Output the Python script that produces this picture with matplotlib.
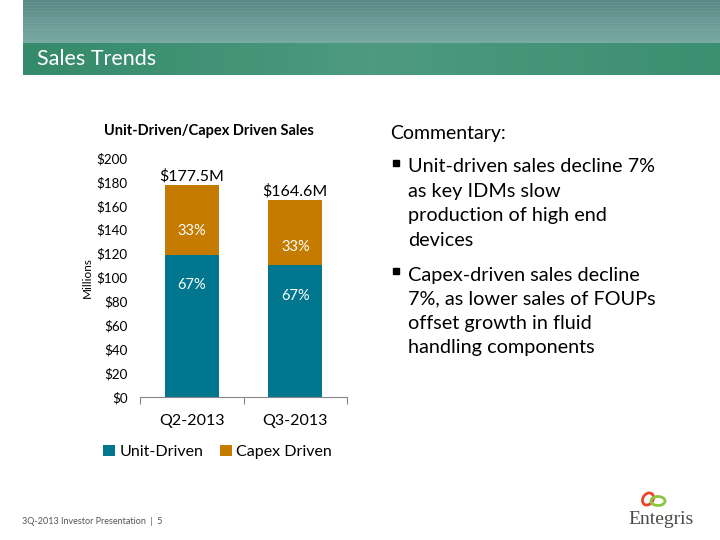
import numpy as np
import matplotlib
matplotlib.use("Agg")
import matplotlib.pyplot as plt
from matplotlib.patches import Rectangle, Ellipse

categories = ["Q2-2013", "Q3-2013"]
unit_driven = [118.9, 110.3]
capex_driven = [58.6, 54.3]
totals_labels = ["$177.5M", "$164.6M"]
unit_pct = ["67%", "67%"]
capex_pct = ["33%", "33%"]
yticks = [0, 20, 40, 60, 80, 100, 120, 140, 160, 180, 200]
ytick_labels = ["$" + str(v) for v in yticks]

TEAL = "#00778F"
ORANGE = "#C47B00"
FONT = ["Lato", "DejaVu Sans"]
plt.rcParams["font.family"] = FONT

fig = plt.figure(figsize=(7.2, 5.4), dpi=100)
W, H = 720, 540

# ---- background / header
bg = fig.add_axes([0, 0, 1, 1])
bg.set_xlim(0, W)
bg.set_ylim(H, 0)
bg.axis("off")
top = np.linspace(0, 1, 43)[:, None] * np.ones((1, 200))
cm1 = matplotlib.colors.LinearSegmentedColormap.from_list("t", ["#5a8985", "#79aaa4"])
bg.imshow(top, cmap=cm1, extent=[23, W, 43, 0], aspect="auto", zorder=1)
for yy in range(2, 30, 3):
    bg.plot([23, W], [yy, yy], color="white", alpha=0.06, lw=0.8, zorder=2)
grn = np.ones((32, 1)) * np.concatenate([np.linspace(0, 1, 100), np.linspace(1, 0.3, 100)])[None, :]
cm2 = matplotlib.colors.LinearSegmentedColormap.from_list("g", ["#358a6b", "#4d9a80"])
bg.imshow(grn, cmap=cm2, extent=[23, W, 75, 43], aspect="auto", zorder=1)
bg.text(37, 59, "Sales Trends", color="white", fontsize=15.5, va="center", ha="left", zorder=3)

# ---- chart
ax = fig.add_axes([140 / W, 1 - 397 / H, 207 / W, (397 - 158) / H])
x = np.arange(len(categories))
ax.bar(x, unit_driven, width=0.52, color=TEAL, label="Unit-Driven", zorder=2)
ax.bar(x, capex_driven, width=0.52, bottom=unit_driven, color=ORANGE, label="Capex Driven", zorder=2)
ax.set_xlim(-0.5, 1.5)
ax.set_ylim(0, 200)
ax.set_yticks(yticks)
ax.set_yticklabels(ytick_labels, fontsize=9.6)
ax.tick_params(axis="y", length=0, pad=9)
ax.set_xticks([-0.5, 0.5, 1.5], minor=False)
ax.set_xticklabels([])
ax.tick_params(axis="x", length=5, color="#888888", direction="out")
for i, c in enumerate(categories):
    ax.text(i, -20, c, ha="center", va="center", fontsize=11.5, clip_on=False)
for s in ["top", "right", "left"]:
    ax.spines[s].set_visible(False)
ax.spines["bottom"].set_color("#888888")
bg.text(87, 278, "Millions", fontsize=8.5, rotation=90, ha="center", va="center")
bg.text(209, 131, "Unit-Driven/Capex Driven Sales", fontsize=10.5, fontweight="bold",
        ha="center", va="center")

for i in range(len(categories)):
    tot = unit_driven[i] + capex_driven[i]
    ax.text(i, tot + 1.5, totals_labels[i], ha="center", va="bottom", fontsize=11.5)
    ax.text(i, tot - 39, capex_pct[i], ha="center", va="center", fontsize=10.5, color="white")
    ax.text(i, unit_driven[i] - 25.5, unit_pct[i], ha="center", va="center", fontsize=10.5, color="white")

handles, labels = ax.get_legend_handles_labels()
fig.legend(handles, labels, loc="center left", bbox_to_anchor=(103 / W, 1 - 452 / H), ncol=2,
           frameon=False, fontsize=11.5, handlelength=0.75, handleheight=0.75, handletextpad=0.3,
           columnspacing=1.0, borderaxespad=0, borderpad=0)

# ---- commentary
bg.text(390, 134, "Commentary:", fontsize=14, va="center", ha="left")
lines1 = ["Unit-driven sales decline 7%", "as key IDMs slow", "production of high end", "devices"]
lines2 = ["Capex-driven sales decline", "7%, as lower sales of FOUPs", "offset growth in fluid",
          "handling components"]
for k, t in enumerate(lines1):
    bg.text(408, 167 + 24.5 * k, t, fontsize=14.3, va="center", ha="left")
for k, t in enumerate(lines2):
    bg.text(408, 275 + 24 * k, t, fontsize=14.3, va="center", ha="left")
bg.add_patch(Rectangle((393, 160), 6, 6, color="black"))
bg.add_patch(Rectangle((393, 268), 6, 6, color="black"))

# ---- footer
bg.text(22, 521, "3Q-2013 Investor Presentation  |  5", fontsize=6.5, color="#555555", va="center")
bg.add_patch(Ellipse((648, 499), 10, 13, angle=35, fill=False, ec="#E8452C", lw=2))
bg.add_patch(Ellipse((658, 501), 14, 9, angle=0, fill=False, ec="#8CC63F", lw=2))
bg.text(661, 519, "Entegris", fontsize=14, family=["Liberation Serif", "DejaVu Serif"],
        color="#4a4a45", ha="center", va="center")

fig.savefig("out.png", dpi=100)
